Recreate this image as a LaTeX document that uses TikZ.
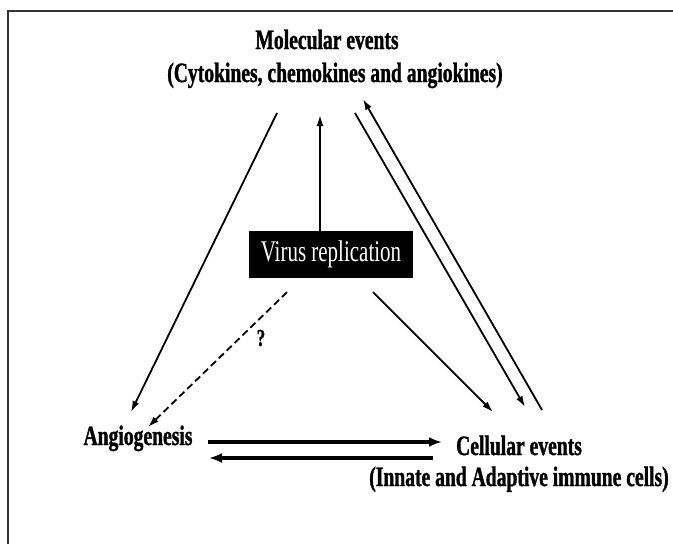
\documentclass[tikz,border=0pt]{standalone}
\usepackage{fontspec}
\setmainfont{Liberation Serif}[FakeStretch=0.7, BoldFeatures={FakeBold=1.2}]
\usetikzlibrary{calc, arrows.meta}

\begin{document}
\begin{tikzpicture}[x=1pt, y=-1pt, every node/.style={inner sep=0pt},
    lbl/.style={font=\fontsize{28}{32}\selectfont\bfseries, anchor=base},
    arr/.style={line width=1.8pt, -{Latex[length=11pt,width=7pt]}},
    dbl/.style={line width=3.2pt, -{Latex[length=13pt,width=10pt]}}]
    \useasboundingbox (0,0) rectangle (673,544);
    % Frame
    \draw[line width=2pt, black!80] (673,11) -- (8,11) -- (8,544);

    % Labels
    \node[lbl] (mol) at (327,49) {Molecular events};
    \node[lbl] (cyto) at (335,82) {(Cytokines, chemokines and angiokines)};
    \node[fill=black, text=white, minimum width=164pt, minimum height=47pt,
        font=\fontsize{30}{34}\selectfont] (virus) at (331,254.5) {Virus replication};
    \node[lbl] (ang) at (138,445) {Angiogenesis};
    \node[lbl] (cell) at (519,455) {Cellular events};
    \node[lbl] (innate) at (519,486) {(Innate and Adaptive immune cells)};

    % Arrows
    \draw[arr] ($(cyto.base)+(-58,31)$) -- ($(ang.base)+(-7,-33)$);
    \draw[arr] ($(virus.north)+(-11,0)$) -- ($(cyto.base)+(-15,33)$);
    \draw[arr] ($(cyto.base)+(20,31)$) -- ($(cell.base)+(6,-48)$);
    \draw[arr] ($(cell.base)+(23,-45)$) -- ($(cyto.base)+(28,17)$);
    \draw[arr] ($(virus.south)+(42,14)$) -- ($(cell.base)+(-26,-43)$);
    \draw[arr, dash pattern=on 7pt off 4pt] ($(virus.south)+(-44,14)$) -- ($(ang.base)+(10,-18)$);
    \node[font=\fontsize{24}{28}\selectfont\bfseries] (q) at (261,338) {?};

    % Feedback
    \draw[dbl] ($(ang.base)+(70,-3)$) -- ($(cell.base)+(-77,-13)$);
    \draw[dbl] ($(cell.base)+(-86,3)$) -- ($(ang.base)+(71,13)$);
\end{tikzpicture}
\end{document}
